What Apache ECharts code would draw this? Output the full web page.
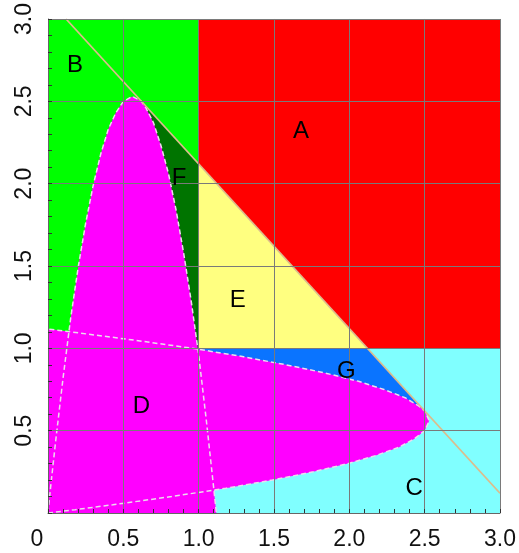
<!DOCTYPE html>
<html>
<head>
<meta charset="utf-8">
<script src="https://cdn.jsdelivr.net/npm/echarts@6/dist/echarts.min.js"></script>
<style>
  html, body { margin: 0; padding: 0; background: #fff; }
  #chart { width: 519px; height: 553px; }
</style>
</head>
<body>
<div id="chart"></div>
<script>
// boundary curve (the upright one); the sideways one is its mirror in y = x
const curveX = [0, 0.02, 0.05, 0.1, 0.15, 0.2, 0.25, 0.3, 0.35, 0.4, 0.45, 0.5, 0.56, 0.62, 0.65, 0.7, 0.75, 0.8, 0.85, 0.9, 0.95, 1.0, 1.05, 1.1, 1.117]
const curveY = [0, 0.18, 0.43, 0.82, 1.18, 1.49, 1.76, 1.99, 2.18, 2.33, 2.43, 2.50, 2.53, 2.50, 2.46, 2.37, 2.23, 2.06, 1.84, 1.58, 1.29, 0.96, 0.57, 0.15, 0]

// straight boundary x + y = 3.12
const lineX = [0.12, 3.0]
const lineY = [3.0, 0.12]

// corner points of the regions
const threshold = 1.0
const lineCross = 2.12          // line meets x = 1 / y = 1
const touch = [0.62, 2.50]      // line touches the curve

const regionNames = ['A', 'B', 'C', 'D', 'E', 'F', 'G']
const labelX = [1.68, 0.18, 2.43, 0.62, 1.26, 0.87, 1.98]
const labelY = [2.32, 2.72, 0.15, 0.65, 1.29, 2.03, 0.86]

const t = threshold
const upright = curveX.map((x, i) => [x, curveY[i]])
const sideways = curveX.map((x, i) => [curveY[i], x])

const polys = [
  { pts: [[t, t], [3, t], [3, 3], [t, 3]], color: '#ff0000' },
  { pts: [[0, 0], [t, t], [t, 3], [0, 3]], color: '#00ff00' },
  { pts: [[0, 0], [3, 0], [3, t], [t, t]], color: '#80ffff' },
  { pts: [[t, t], [lineCross, t], [t, lineCross]], color: '#ffff80' },
  { pts: [touch, [t, lineCross], [t, t], [touch[0], t]], color: '#007400' },
  { pts: [[touch[1], touch[0]], [lineCross, t], [t, t], [t, touch[0]]], color: '#0a74ff' },
  { pts: upright, color: '#ff00ff' },
  { pts: sideways, color: '#ff00ff' }
]

function fill(points, color) {
  return {
    type: 'custom',
    coordinateSystem: 'cartesian2d',
    silent: true,
    data: points,
    renderItem: (params, api) => {
      if (params.dataIndex !== 0) return null
      return {
        type: 'polygon',
        shape: { points: points.map(p => api.coord(p)) },
        style: { fill: color }
      }
    }
  }
}

function outline(points, style) {
  return {
    type: 'line',
    data: points,
    symbol: 'none',
    silent: true,
    lineStyle: style
  }
}

const axisFont = { fontFamily: 'Liberation Sans, Arial, sans-serif', fontSize: 23, color: '#111' }

function axis(extra) {
  return Object.assign({
    type: 'value',
    min: 0,
    max: 3,
    interval: 0.5,
    z: 10,
    axisLine: { show: true, lineStyle: { color: '#666', width: 1 } },
    axisTick: { show: true, inside: true, length: 4, lineStyle: { color: '#333' } },
    minorTick: { show: true, splitNumber: 5, length: 4, lineStyle: { color: '#333' } },
    splitLine: { show: true, lineStyle: { color: '#7a7a7a', width: 1 } }
  }, extra)
}

const chart = echarts.init(document.getElementById('chart'))
chart.setOption({
  animation: false,
  backgroundColor: '#fff',
  grid: { left: 48, right: 17, top: 15, bottom: 40 },
  xAxis: axis({
    axisLabel: Object.assign({
      margin: 15,
      formatter: v => v === 0 ? '{z|0}' : v.toFixed(1),
      rich: { z: Object.assign({ padding: [0, 22, 0, 0] }, axisFont) }
    }, axisFont)
  }),
  yAxis: axis({
    axisLabel: Object.assign({
      margin: 12,
      rotate: 90,
      formatter: v => v === 0 ? '' : v.toFixed(1)
    }, axisFont)
  }),
  series: [
    ...polys.map(p => fill(p.pts, p.color)),
    outline(upright, { color: '#ecdcec', width: 1.5, type: [5, 3] }),
    outline(sideways, { color: '#ecdcec', width: 1.5, type: [5, 3] }),
    outline(lineX.map((x, i) => [x, lineY[i]]), { color: '#dcbc8c', width: 1.8 }),
    {
      type: 'custom',
      coordinateSystem: 'cartesian2d',
      silent: true,
      z: 12,
      data: regionNames.map((n, i) => [labelX[i], labelY[i], n]),
      renderItem: (params, api) => {
        const p = api.coord([api.value(0), api.value(1)])
        return {
          type: 'text',
          x: p[0],
          y: p[1],
          style: {
            text: regionNames[params.dataIndex],
            fontFamily: 'Liberation Sans, Arial, sans-serif',
            fontSize: 24,
            fill: '#000',
            align: 'center',
            verticalAlign: 'middle'
          }
        }
      }
    }
  ]
})
</script>
</body>
</html>
